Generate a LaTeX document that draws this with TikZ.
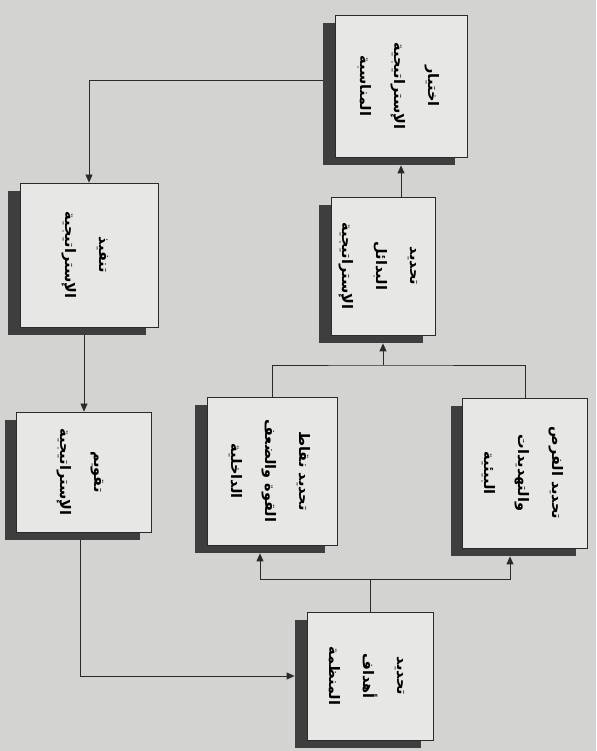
\documentclass[tikz,border=0pt]{standalone}
\usepackage{xcolor}
\definecolor{PageGray}{HTML}{D3D3D1}
\definecolor{BoxGray}{HTML}{E7E7E5}
\definecolor{ShadeGray}{HTML}{3E3E3E}
\definecolor{LineGray}{HTML}{2A2A2A}
\usepackage{graphicx}
\usepackage{fontspec}
\newfontfamily\arabicfont[Script=Arabic]{DejaVu Sans}
\TeXXeTstate=1
\usepackage{tikz}
\usetikzlibrary{arrows.meta,shadows}
\newcommand{\artxt}[1]{{\arabicfont\bfseries\beginR #1\endR}}
\newcommand{\vlabel}[1]{\rotatebox{-90}{\fontsize{14.5}{34}\selectfont\begin{tabular}{@{}c@{}}#1\end{tabular}}}

\begin{document}
\begin{tikzpicture}[
  x=1pt,y=1pt,
  box/.style={draw=LineGray,line width=0.8pt,fill=BoxGray,inner sep=0pt,
    drop shadow={shadow xshift=-12pt,shadow yshift=-8pt,fill=ShadeGray,opacity=1}},
  arr/.style={-{Triangle[length=8pt,width=7pt]},line width=0.8pt,LineGray},
  bus/.style={line width=0.8pt,LineGray}
]
  \fill[PageGray] (0,0) rectangle (596,751);
  \useasboundingbox (0,0) rectangle (596,751);
  \node[box,minimum width=132pt,minimum height=142pt] (choose) at (401,665)
    {\vlabel{\artxt{اختيار}\\ \artxt{الإستراتيجية}\\ \artxt{المناسبة}}};
  \node[box,minimum width=104pt,minimum height=138pt] (altern) at (383,485)
    {\vlabel{\artxt{تحديد}\\ \artxt{البدائل}\\ \artxt{الإستراتيجية}}};
  \node[box,minimum width=130pt,minimum height=148pt] (inner) at (272,280)
    {\vlabel{\artxt{تحديد نقاط}\\ \artxt{القوة والضعف}\\ \artxt{الداخلية}}};
  \node[box,minimum width=125pt,minimum height=150pt] (outer) at (525,278)
    {\vlabel{\artxt{تحديد الفرص}\\ \artxt{والتهديدات}\\ \artxt{البيئية}}};
  \node[box,minimum width=126pt,minimum height=128pt] (goals) at (370,75)
    {\vlabel{\artxt{تحديد}\\ \artxt{أهداف}\\ \artxt{المنظمة}}};
  \node[box,minimum width=138pt,minimum height=144pt] (apply) at (89,496)
    {\vlabel{\artxt{تنفيذ}\\ \artxt{الإستراتيجية}}};
  \node[box,minimum width=135pt,minimum height=120pt] (review) at (84,279)
    {\vlabel{\artxt{تقويم}\\ \artxt{الإستراتيجية}}};
  \coordinate (upbus) at (383,386);
  \coordinate (downbus) at (370,172);
  \draw[arr,shorten <=12pt] ([yshift=6pt]choose.west) -| (apply.north);
  \draw[arr,shorten >=8pt] (altern.north -| choose.south) -- (choose.south);
  \draw[bus] (inner.north) |- (upbus) -| (outer.north);
  \draw[arr,shorten >=8pt] (upbus) -- (altern.south);
  \draw[bus] (goals.north) -- (downbus);
  \draw[arr,shorten >=8pt] (downbus) -| ([xshift=-12pt]inner.south);
  \draw[arr,shorten >=8pt] (downbus) -| ([xshift=-15pt]outer.south);
  \draw[arr,shorten <=8pt] (review.north |- apply.south) -- (review.north);
  \draw[arr,shorten <=8pt,shorten >=12pt] ([xshift=-4pt]review.south) |- (goals.west);
\end{tikzpicture}
\end{document}
